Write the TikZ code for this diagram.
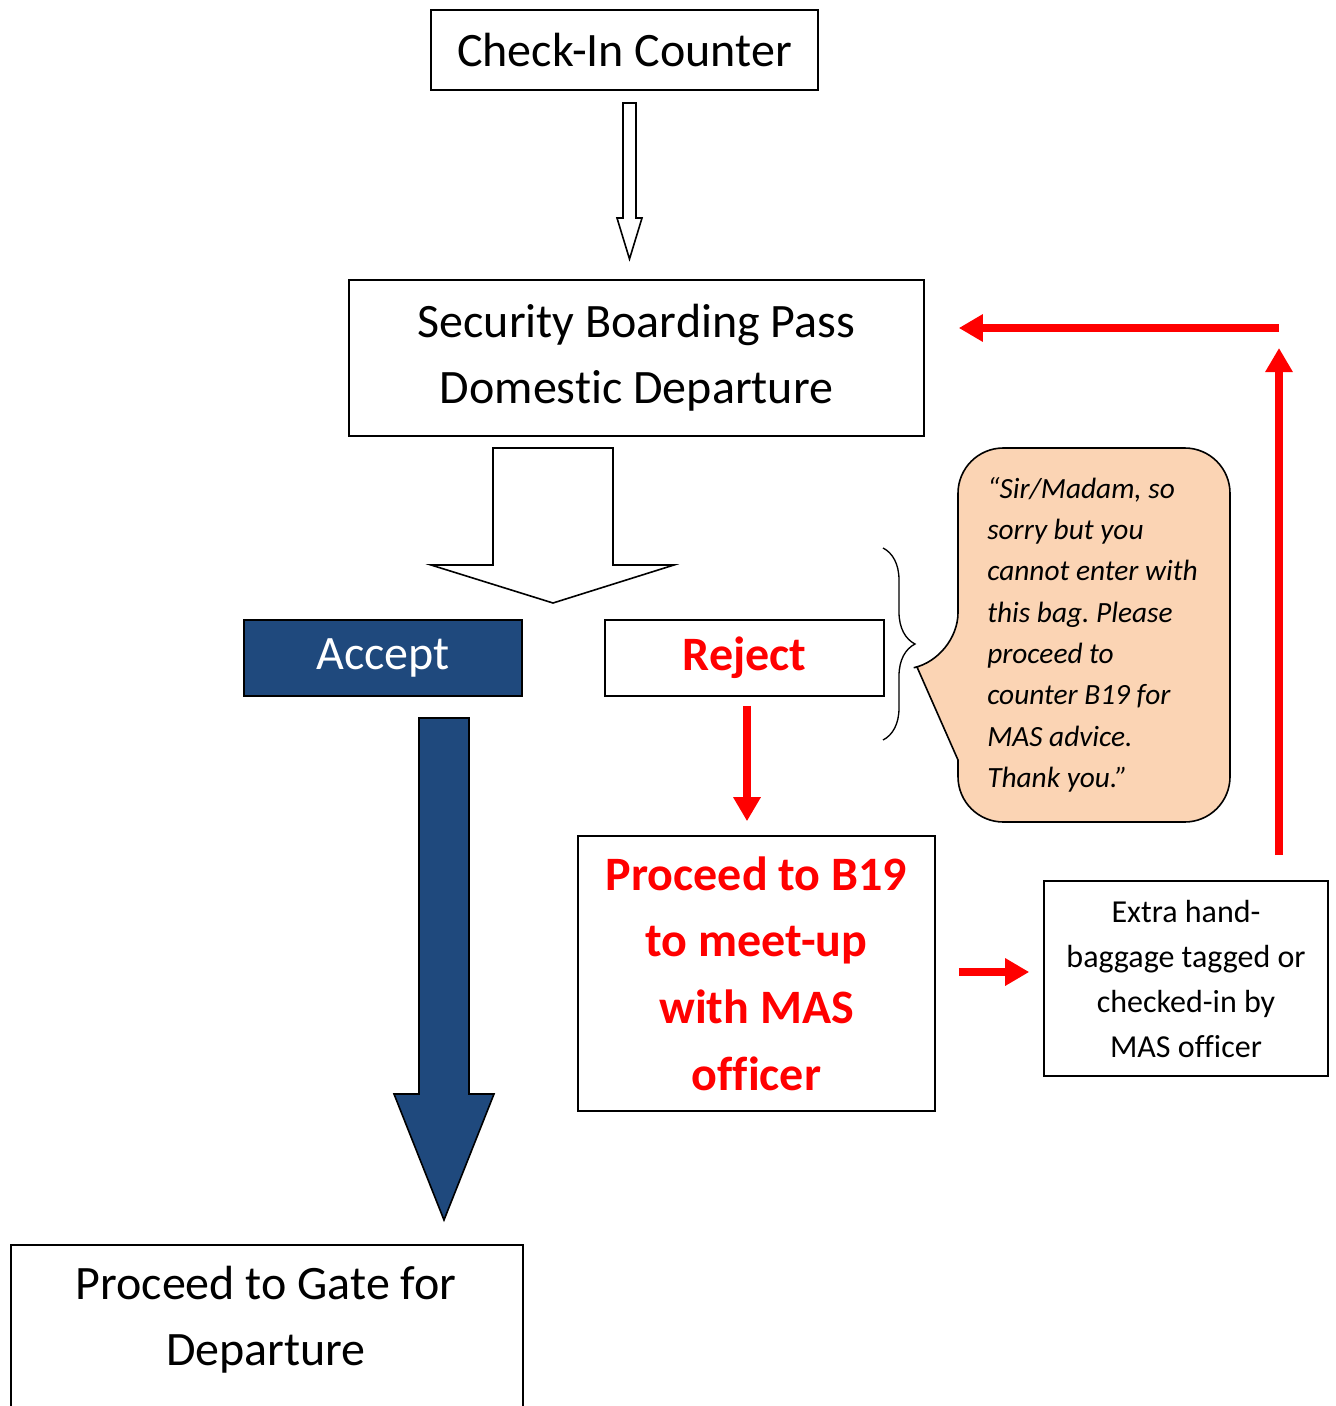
\documentclass[tikz,border=0pt]{standalone}
\usepackage{fontspec}
\setmainfont[Ligatures=NoCommon]{Carlito}
\usepackage{xcolor}
\usepackage{tikz}
\usetikzlibrary{positioning}
\usetikzlibrary{arrows.meta,decorations.pathreplacing}
\definecolor{accblue}{HTML}{1F497D}
\definecolor{peach}{HTML}{FBD4B4}
\newdimen\pxu \pxu=0.75pt
\frenchspacing

\begin{document}
\begin{tikzpicture}[x=0.75pt,y=-0.75pt,
  box/.style={draw,line width=1.2pt,inner sep=0pt,align=center},
  big/.style={font=\fontsize{36}{49.5}\selectfont},
  bigbold/.style={font=\fontsize{36}{50}\selectfont\bfseries,text=red},
  small/.style={font=\fontsize{24}{33.75}\selectfont},
  redarrow/.style={red,line width=5.5pt,-{Triangle[length=18pt,width=19.5pt]}},
  hollow/.style={draw,line width=1.2pt,fill=white}]
  \useasboundingbox (0,0) rectangle (1335,1406);
  \clip (0,0) rectangle (1335,1406);

  % boxes
  \node[box,big,minimum width=387\pxu,minimum height=80\pxu] (checkin) at (624.5,50) {Check-In Counter};
  \node[box,big,minimum width=575\pxu,minimum height=156\pxu] (sec) at (636.5,358) {Security Boarding Pass\\Domestic Departure};
  \node[box,big,fill=accblue,text=white,minimum width=278\pxu,minimum height=76\pxu] (accept) at (383,658) {Accept};
  \node[box,bigbold,minimum width=279\pxu,minimum height=76\pxu] (reject) at (744.5,658) {Reject};
  \node[box,bigbold,minimum width=357\pxu,minimum height=275\pxu] (b19) at (756.5,973.5) {Proceed to B19\\to meet-up\\with MAS\\officer};
  \node[box,small,minimum width=284\pxu,minimum height=195\pxu] (extra) at (1186,978.5) {Extra hand-\\baggage tagged or\\checked-in by\\MAS officer};
  \node[box,anchor=north west,minimum width=512\pxu,minimum height=200\pxu] (gatebox) at (10,1244) {};
  \node[big,align=center] (gate) at (266,1320) {Proceed to Gate for\\Departure};

  % block arrows
  \draw[hollow] (623,103) -- (636,103) -- (636,218) -- (642,218) -- (629.5,259) -- (617,218) -- (623,218) -- cycle;
  \draw[hollow] (493,448) -- (613,448) -- (613,565) -- (674,565) -- (553,603) -- (431,565) -- (493,565) -- cycle;
  \draw[hollow,fill=accblue] (419,718) -- (469,718) -- (469,1094) -- (494,1094) -- (444,1220) -- (394,1094) -- (419,1094) -- cycle;

  % callout
  \draw[line width=1.2pt,fill=peach] (958,760) [rounded corners=34pt] -- (958,822) -- (1230,822) -- (1230,448) -- (958,448) -- (958,658) [sharp corners] -- (917,667) -- cycle;
  \node[font=\fontsize{22}{31}\selectfont\itshape,align=left,anchor=west,inner sep=0pt] (msg) at (987,634.5)
    {“Sir/Madam, so\\sorry but you\\cannot enter with\\this bag. Please\\proceed to\\counter B19 for\\MAS advice.\\Thank you.”};
  \draw[line width=1pt,decorate,decoration={brace,amplitude=24pt}] (883,548) -- (883,740);

  % red arrows
  \coordinate (upend) at (1279,348);
  \coordinate (leftstart) at (1279,328);
  \draw[redarrow] ([shift={(2.5,9)}]reject.south) -- ([shift={(-9.5,-14)}]b19.north);
  \draw[redarrow] ([shift={(23,-1.5)}]b19.east) -- ([shift={(-14,-6.5)}]extra.west);
  \draw[redarrow] ([shift={(93,-25)}]extra.north) -- (upend);
  \draw[redarrow] (leftstart) -- ([shift={(34,-30)}]sec.east);
\end{tikzpicture}
\end{document}
